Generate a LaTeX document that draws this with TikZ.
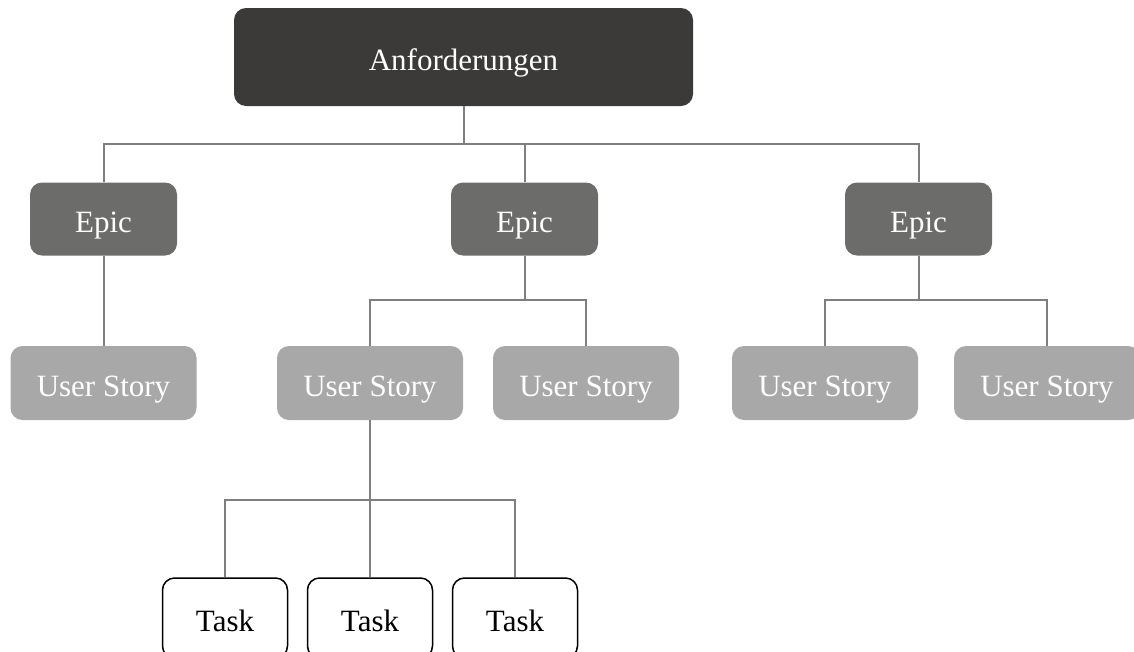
\documentclass[tikz,border=0pt]{standalone}
\usepackage{fontspec}
\setmainfont{Liberation Serif}
\definecolor{rootfill}{HTML}{3B3A38}
\definecolor{epicfill}{HTML}{6C6D6A}
\definecolor{storyfill}{HTML}{A8A8A8}
\definecolor{linkgray}{HTML}{7F7F7F}
\begin{document}
\begin{tikzpicture}[x=1pt,y=-1pt,
  box/.style={rounded corners=12pt, inner sep=0pt, text height=27pt, text depth=0pt,
    font=\fontsize{31}{36}\selectfont},
  rootbox/.style={box, fill=rootfill, text=white, minimum width=459pt, minimum height=98pt},
  epicbox/.style={box, fill=epicfill, text=white, minimum width=147pt, minimum height=73pt},
  storybox/.style={box, fill=storyfill, text=white, minimum width=186pt, minimum height=74pt},
  taskbox/.style={box, draw=black, line width=1.5pt, fill=white, text=black, minimum width=125pt, minimum height=80pt},
  link/.style={draw=linkgray, line width=2pt}]
\useasboundingbox (0,0) rectangle (1134,651);
\clip (0,0) rectangle (1134,651);

% levels of the hierarchy
\node[rootbox] (root) at (463.5,57) {Anforderungen};

\node[epicbox] (e1) at (103.5,219) {Epic};
\node[epicbox] (e2) at (524.5,219) {Epic};
\node[epicbox] (e3) at (918.5,219) {Epic};

\node[storybox] (s1) at (103.5,383) {User Story};
\node[storybox] (s2) at (370,383) {User Story};
\node[storybox] (s3) at (586,383) {User Story};
\node[storybox] (s4) at (825,383) {User Story};
\node[storybox] (s5) at (1047,383) {User Story};

\node[taskbox] (t1) at (225,618) {Task};
\node[taskbox] (t2) at (370,618) {Task};
\node[taskbox] (t3) at (515,618) {Task};

% bus heights
\coordinate (b0) at (0,144);
\coordinate (b2) at (0,300);
\coordinate (b3) at (0,300);
\coordinate (bt) at (0,500);

% connectors
\draw[link] (root.south) -- (root.south |- b0) -| (e1.north);
\draw[link] (root.south) -- (root.south |- b0) -| (e2.north);
\draw[link] (root.south) -- (root.south |- b0) -| (e3.north);

\draw[link] (e1.south) -- (s1.north);
\draw[link] (e2.south) -- (e2.south |- b2) -| (s2.north);
\draw[link] (e2.south) -- (e2.south |- b2) -| (s3.north);
\draw[link] (e3.south) -- (e3.south |- b3) -| (s4.north);
\draw[link] (e3.south) -- (e3.south |- b3) -| (s5.north);

\draw[link] (s2.south) -- (s2.south |- bt) -| (t1.north);
\draw[link] (s2.south) -- (t2.north);
\draw[link] (s2.south) -- (s2.south |- bt) -| (t3.north);
\end{tikzpicture}
\end{document}
